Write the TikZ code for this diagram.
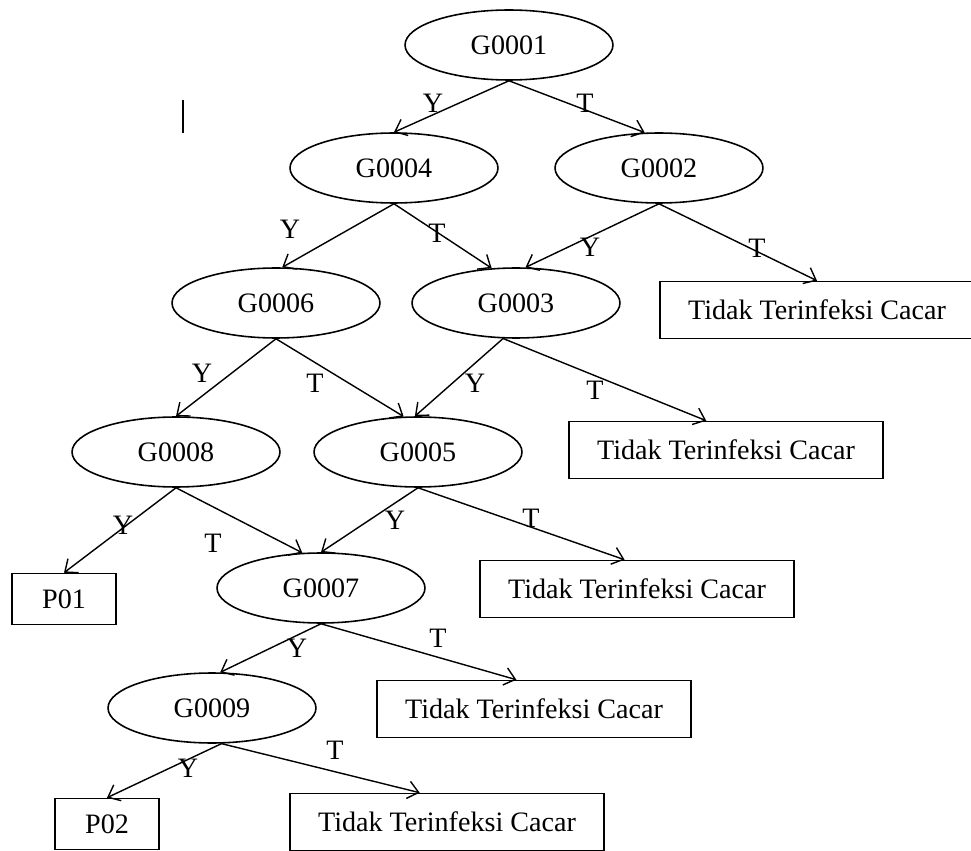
\documentclass[tikz,border=0pt]{standalone}
\usepackage{fontspec}
\setmainfont{Liberation Serif}
\usetikzlibrary{arrows.meta,shapes.geometric}

\tikzset{
  gejala/.style={draw, ellipse, line width=0.9pt, minimum width=4.16cm, minimum height=1.4cm, inner sep=0pt},
  hasil/.style={draw, rectangle, line width=0.9pt, minimum width=6.28cm, minimum height=1.14cm, inner sep=0pt},
  penyakit/.style={draw, rectangle, line width=0.9pt, minimum width=2.08cm, minimum height=1.02cm, inner sep=0pt},
  cabang/.style={->, line width=0.8pt},
  ket/.style={inner sep=0pt}
}

\begin{document}
\begin{tikzpicture}[x=0.02cm,y=-0.02cm,>={Straight Barb[length=6pt,width=10pt]},font=\fontsize{16}{19}\selectfont]
		\useasboundingbox (0,0) rectangle (971,851);
		% gejala
		\node[gejala] (g1) at (509,45) {G0001};
		\node[gejala] (g4) at (394,168) {G0004};
		\node[gejala] (g2) at (659,168) {G0002};
		\node[gejala] (g6) at (276,303) {G0006};
		\node[gejala] (g3) at (516,303) {G0003};
		\node[gejala] (g8) at (176,452) {G0008};
		\node[gejala] (g5) at (418,452) {G0005};
		\node[gejala] (g7) at (321,588) {G0007};
		\node[gejala] (g9) at (212,708) {G0009};
		% hasil
		\node[hasil] (t1) at (817,310) {Tidak Terinfeksi Cacar};
		\node[hasil] (t2) at (726,450) {Tidak Terinfeksi Cacar};
		\node[hasil] (t3) at (637,589) {Tidak Terinfeksi Cacar};
		\node[hasil] (t4) at (534,709) {Tidak Terinfeksi Cacar};
		\node[hasil] (t5) at (447,822) {Tidak Terinfeksi Cacar};
		\node[penyakit] (p1) at (64,599) {P01};
		\node[penyakit] (p2) at (107,824) {P02};
		% cabang
		\draw[cabang] (g1.south) -- (g4.north);
		\draw[cabang] (g1.south) -- (g2.112);
		\draw[cabang] (g4.south) -- (g6.80);
		\draw[cabang] (g4.south) -- (g3.125);
		\draw[cabang] (g2.south) -- (g3.75);
		\draw[cabang] (g2.south) -- (t1.north);
		\draw[cabang] (g6.south) -- (g8.north);
		\draw[cabang] (g6.south) -- (g5.112);
		\draw[cabang] (g3.250) -- (g5.95);
		\draw[cabang] (g3.250) -- (t2.124);
		\draw[cabang] (g8.south) -- (p1.north);
		\draw[cabang] (g8.south) -- (g7.118);
		\draw[cabang] (g5.south) -- (g7.north);
		\draw[cabang] (g5.south) -- (t3.113);
		\draw[cabang] (g7.south) -- (g9.77);
		\draw[cabang] (g7.south) -- (t4.121);
		\draw[cabang] (g9.285) -- (p2.north);
		\draw[cabang] (g9.285) -- (t5.133);
		% label Y / T
		\node[ket] (y1) at (433,103) {Y};
		\node[ket] (n1) at (585,103) {T};
		\node[ket] (y4) at (290,229) {Y};
		\node[ket] (n4) at (437,233) {T};
		\node[ket] (y2) at (590,247) {Y};
		\node[ket] (n2) at (757,248) {T};
		\node[ket] (y6) at (202,373) {Y};
		\node[ket] (n6) at (315,383) {T};
		\node[ket] (y3) at (475,383) {Y};
		\node[ket] (n3) at (595,390) {T};
		\node[ket] (y8) at (123,525) {Y};
		\node[ket] (n8) at (213,543) {T};
		\node[ket] (y5) at (395,520) {Y};
		\node[ket] (n5) at (531,518) {T};
		\node[ket] (y7) at (297,648) {Y};
		\node[ket] (n7) at (438,638) {T};
		\node[ket] (y9) at (188,768) {Y};
		\node[ket] (n9) at (335,750) {T};
		% kursor
		\draw[line width=1.6pt] (183,100) -- (183,133);
	\end{tikzpicture}
\end{document}
